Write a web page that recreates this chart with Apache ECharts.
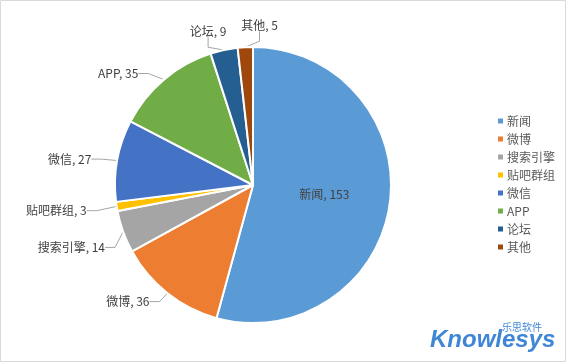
<!DOCTYPE html>
<html><head><meta charset="utf-8">
<script src="https://cdn.jsdelivr.net/npm/echarts@6/dist/echarts.min.js"></script>
<style>html,body{margin:0;padding:0;background:#fff}#c{width:566px;height:362px}</style>
</head><body><div id="c"></div>
<script>
const categories = ['新闻','微博','搜索引擎','贴吧群组','微信','APP','论坛','其他'];
const values = [153,36,14,3,27,35,9,5];
const colors = ['#5B9BD5','#ED7D31','#A5A5A5','#FFC000','#4472C4','#70AD47','#255E91','#9E480E'];
// label nudges (layout only)
const labelShiftX = [0,2,0,-12,-8,-10,47,48];
const labelShiftY = [0,2,13,3,0,0,-22,-14];
const font = '"Noto Sans CJK SC", "Microsoft YaHei", sans-serif';
const chart = echarts.init(document.getElementById('c'));
chart.setOption({
  animation:false,
  color: colors,
  legend:{
    orient:'vertical', left:491, top:110, itemWidth:7, itemHeight:7, itemGap:6,
    icon:'rect', textStyle:{fontSize:12, color:'#595959', fontFamily:font, padding:[0,0,0,-2]},
    data: categories
  },
  graphic:[
    {type:'rect', shape:{x:0.5,y:0.5,width:565,height:361}, style:{fill:'none', stroke:'#D9D9D9', lineWidth:1}, silent:true},
    {type:'text', left:430, top:328, style:{text:'Knowlesys', fontSize:24, fontWeight:'bold', fontStyle:'italic', fill:'#3F86D6', fontFamily:'Arial, "Liberation Sans", sans-serif'}},
    {type:'text', left:502, top:322, style:{text:'乐思软件', fontSize:10, fill:'#3F86D6', fontFamily:font}}
  ],
  series:[{
    type:'pie', center:[253,185], radius:[0,138], startAngle:90, clockwise:true,
    itemStyle:{borderColor:'#fff', borderWidth:2},
    label:{show:true, formatter:'{b}, {c}', fontSize:12, color:'#404040', fontFamily:font},
    labelLine:{show:true, length:8, length2:10, lineStyle:{color:'#A6A6A6', width:1}},
    labelLayout: function(p){
      const i = p.dataIndex;
      if (i === 0) return {};
      return {x: p.labelRect.x + labelShiftX[i], y: p.labelRect.y + labelShiftY[i], align:'left', verticalAlign:'top'};
    },
    data: categories.map((n,i)=>({name:n, value:values[i], label: i===0?{position:'inside'}:undefined}))
  }]
});
</script></body></html>
